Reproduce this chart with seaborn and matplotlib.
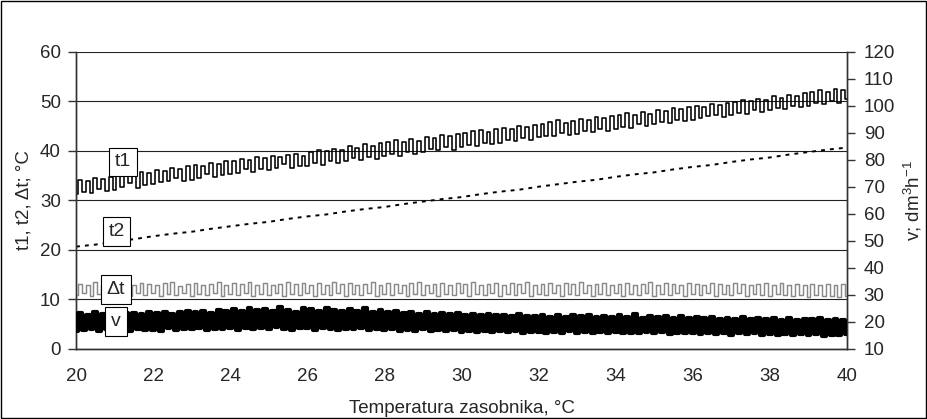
import numpy as np
import pandas as pd
import matplotlib
matplotlib.use("Agg")
import matplotlib.pyplot as plt
from matplotlib.patches import Rectangle
import seaborn as sns

# Storage tank temperature, degC (sampling grid of the logged series)
temp = np.linspace(20.0, 40.0, 201)
# Coarser grid for the return temperature
temp_t2 = np.linspace(20.0, 40.0, 41)

# Supply temperature t1, degC
t1 = [31.2, 34.0, 31.6, 33.9, 31.5, 34.4, 32.3, 34.2, 31.8, 34.6,
      32.1, 35.2, 32.6, 34.9, 33.4, 35.3, 32.5, 35.7, 33.0, 35.4,
      33.3, 36.1, 33.6, 35.8, 33.9, 36.5, 34.4, 36.3, 33.8, 36.9,
      34.0, 37.0, 34.5, 36.8, 35.3, 37.4, 34.6, 37.2, 35.0, 37.8,
      35.2, 37.9, 35.5, 38.3, 36.2, 38.1, 35.7, 38.6, 36.3, 38.4,
      36.0, 38.9, 36.4, 38.6, 37.2, 39.1, 36.5, 39.3, 36.9, 39.0,
      36.8, 39.8, 37.5, 40.2, 37.0, 39.9, 37.8, 40.4, 37.4, 40.1,
      37.8, 40.9, 38.4, 40.6, 38.1, 41.3, 38.8, 41.0, 38.3, 41.5,
      38.9, 41.7, 39.3, 42.1, 39.0, 41.8, 39.7, 42.4, 39.4, 42.0,
      39.7, 42.8, 40.3, 42.5, 40.1, 43.2, 40.7, 42.9, 40.2, 43.4,
      40.8, 43.6, 41.2, 43.9, 41.0, 44.2, 41.6, 43.8, 41.3, 44.3,
      41.5, 44.5, 42.1, 44.3, 41.9, 45.0, 42.5, 44.7, 42.2, 45.2,
      42.7, 45.3, 43.0, 45.8, 42.9, 46.1, 43.5, 45.6, 43.2, 46.0,
      43.4, 46.4, 43.9, 46.2, 43.7, 46.8, 44.3, 46.5, 44.0, 47.0,
      44.4, 47.2, 44.8, 47.5, 44.6, 47.1, 45.3, 47.8, 45.0, 47.4,
      45.3, 48.2, 45.8, 48.0, 45.6, 48.6, 46.2, 48.3, 45.9, 48.8,
      46.2, 49.1, 46.6, 48.8, 46.9, 49.4, 47.1, 49.2, 46.8, 49.7,
      47.2, 49.9, 47.6, 50.3, 47.4, 50.1, 48.1, 50.5, 47.8, 50.2,
      48.1, 51.0, 48.6, 50.7, 48.4, 51.3, 49.0, 51.1, 48.7, 51.6,
      49.1, 51.8, 49.6, 52.2, 49.4, 51.9, 50.0, 52.4, 49.7, 52.3,
      50.4]

# Return temperature t2, degC
t2 = [20.6, 21.0, 21.6, 22.1, 22.7, 23.2, 23.6, 24.2, 24.7, 25.2,
      25.6, 26.2, 26.7, 27.1, 27.7, 28.2, 28.6, 29.2, 29.7, 30.2,
      30.6, 31.2, 31.7, 32.1, 32.7, 33.2, 33.7, 34.1, 34.7, 35.2,
      35.6, 36.2, 36.7, 37.1, 37.7, 38.2, 38.6, 39.2, 39.7, 40.2,
      40.6]

# Temperature difference dt, degC
dt = [10.9, 13.1, 11.2, 12.8, 10.7, 13.4, 11.0, 12.9, 11.3, 13.2,
      10.8, 13.0, 11.1, 13.5, 10.6, 12.8, 11.2, 13.3, 10.9, 13.1,
      11.3, 12.9, 10.7, 13.2, 11.0, 13.4, 10.8, 12.7, 11.2, 13.0,
      10.6, 13.3, 11.1, 12.9, 10.9, 13.1, 11.3, 13.4, 10.7, 12.8,
      11.0, 13.2, 10.8, 13.0, 11.2, 13.5, 10.6, 12.9, 11.1, 13.3,
      10.9, 12.8, 11.3, 13.1, 10.7, 13.4, 11.0, 13.0, 10.8, 13.2,
      11.2, 12.9, 10.6, 13.3, 11.1, 12.8, 10.9, 13.4, 11.3, 13.0,
      10.7, 13.2, 11.0, 12.9, 10.8, 13.1, 11.2, 13.5, 10.6, 12.8,
      11.1, 13.3, 10.9, 13.0, 11.3, 12.9, 10.7, 13.2, 11.0, 13.4,
      10.8, 12.8, 11.2, 13.1, 10.6, 13.3, 11.1, 12.9, 10.9, 13.2,
      11.3, 13.0, 10.7, 13.4, 11.0, 12.8, 10.8, 13.1, 11.2, 13.3,
      10.6, 12.9, 11.1, 13.2, 10.9, 13.0, 11.3, 13.4, 10.7, 12.8,
      11.0, 13.1, 10.8, 13.3, 11.2, 12.9, 10.6, 13.2, 11.1, 13.0,
      10.9, 13.4, 11.3, 12.8, 10.7, 13.1, 11.0, 13.3, 10.8, 12.9,
      11.2, 13.0, 10.6, 13.2, 11.1, 12.8, 10.9, 13.1, 11.3, 13.4,
      10.7, 12.9, 11.0, 13.3, 10.8, 13.0, 11.2, 12.8, 10.6, 13.2,
      11.1, 13.1, 10.9, 12.9, 11.3, 13.3, 10.7, 13.0, 11.0, 12.8,
      10.8, 13.2, 11.2, 13.0, 10.6, 12.9, 11.1, 13.1, 10.9, 13.3,
      10.7, 12.8, 11.0, 13.2, 10.8, 12.9, 10.6, 13.0, 10.9, 12.8,
      10.5, 13.1, 10.8, 12.9, 10.6, 13.0, 10.7, 12.8, 10.5, 13.1,
      10.7]

# Flow rate v, dm3/h
v = [16.4, 23.1, 16.9, 22.6, 17.3, 23.4, 16.6, 22.9, 17.1, 23.6,
     16.8, 22.8, 17.4, 23.3, 16.5, 23.0, 17.2, 22.7, 16.9, 23.5,
     17.0, 23.2, 16.7, 23.7, 17.5, 22.9, 16.8, 23.4, 17.3, 23.9,
     17.2, 23.6, 17.6, 24.1, 16.9, 23.3, 17.4, 24.4, 17.1, 23.8,
     17.7, 24.5, 17.0, 23.9, 17.8, 25.0, 17.3, 24.2, 17.6, 24.8,
     17.1, 24.0, 17.9, 25.3, 17.4, 24.4, 16.9, 23.7, 17.6, 24.9,
     17.5, 24.6, 17.0, 23.8, 17.8, 25.1, 17.2, 24.3, 16.8, 23.9,
     17.4, 24.7, 17.1, 24.0, 17.7, 24.9, 16.9, 23.6, 17.3, 24.2,
     16.8, 23.4, 17.2, 23.9, 16.6, 23.1, 17.0, 23.6, 16.7, 22.9,
     17.1, 23.5, 16.5, 22.8, 16.9, 23.2, 16.4, 22.7, 16.8, 23.0,
     16.3, 22.5, 16.7, 22.9, 16.2, 22.4, 16.6, 22.8, 16.1, 22.3,
     16.5, 22.6, 16.0, 22.1, 16.4, 22.7, 15.9, 22.2, 16.3, 21.9,
     16.1, 22.4, 15.8, 21.8, 16.2, 22.3, 15.9, 21.7, 16.4, 22.6,
     15.8, 21.9, 16.2, 22.5, 15.7, 21.6, 16.0, 22.0, 15.9, 21.8,
     16.1, 22.3, 15.6, 21.7, 15.9, 22.8, 15.8, 21.5, 16.2, 22.1,
     15.7, 21.6, 16.0, 21.9, 15.5, 21.4, 15.9, 22.0, 15.6, 21.3,
     15.8, 21.7, 15.4, 21.2, 15.7, 21.8, 15.3, 20.9, 15.6, 21.5,
     15.2, 21.0, 15.6, 21.6, 15.4, 20.8, 15.7, 21.3, 15.1, 20.9,
     15.5, 21.2, 15.0, 20.7, 15.4, 21.4, 14.9, 20.6, 15.3, 21.1,
     15.0, 20.8, 15.4, 21.3, 14.8, 20.5, 15.2, 21.0, 14.9, 20.7,
     15.3]

x_ticks = [20, 22, 24, 26, 28, 30, 32, 34, 36, 38, 40]
left_ticks = [0, 10, 20, 30, 40, 50, 60]
right_ticks = [10, 20, 30, 40, 50, 60, 70, 80, 90, 100, 110, 120]

df = pd.DataFrame({"T": temp, "t1": t1, "dt": dt, "v": v})
df_t2 = pd.DataFrame({"T": temp_t2, "t2": t2})

sns.set_theme(style="white")
plt.rcParams["font.family"] = ["Liberation Sans", "DejaVu Sans"]
plt.rcParams["mathtext.fontset"] = "custom"
plt.rcParams["mathtext.rm"] = "Liberation Sans"
plt.rcParams["mathtext.default"] = "rm"

FS = 13.5

fig = plt.figure(figsize=(9.27, 4.19), dpi=100)
ax = fig.add_axes([0.082, 0.168, 0.8317, 0.709])
ax2 = ax.twinx()

sns.lineplot(data=df, x="T", y="t1", ax=ax, color="black", lw=1.15,
             drawstyle="steps-mid", estimator=None, zorder=3)
sns.lineplot(data=df_t2, x="T", y="t2", ax=ax, color="black", lw=1.4,
             linestyle=(0, (2.0, 2.6)), estimator=None, zorder=3)
sns.lineplot(data=df, x="T", y="dt", ax=ax, color="#8a8a8a", lw=1.05,
             drawstyle="steps-mid", estimator=None, zorder=3)
sns.lineplot(data=df, x="T", y="v", ax=ax2, color="black", lw=3.0,
             drawstyle="steps-mid", estimator=None, zorder=3)

ax.set_xlim(20, 40)
ax.set_ylim(0, 60)
ax2.set_ylim(10, 120)
ax.set_xticks(x_ticks)
ax.set_yticks(left_ticks)
ax2.set_yticks(right_ticks)

for a in (ax, ax2):
    a.set_facecolor("none")
    for s in a.spines.values():
        s.set_color("#333333")
        s.set_linewidth(1.0)
    a.spines["top"].set_visible(False)

ax.yaxis.grid(True, color="#222222", lw=0.8)
ax.xaxis.grid(False)
ax2.grid(False)
ax.set_axisbelow(True)

ax.tick_params(axis="x", direction="out", length=6, width=1, color="#333333",
               pad=8, labelsize=FS)
ax.tick_params(axis="y", direction="out", length=6, width=1, color="#333333",
               pad=5, labelsize=FS, left=True)
ax2.tick_params(axis="y", direction="out", length=6, width=1, color="#333333",
                pad=6, labelsize=FS, right=True)

ax.set_xlabel("Temperatura zasobnika, °C", fontsize=FS)
ax.set_ylabel("t1, t2, Δt; °C", fontsize=FS)
ax2.set_ylabel("v; dm$^{3}$h$^{-1}$", fontsize=FS, rotation=90)
ax.xaxis.set_label_coords(0.5, -0.172)
ax.yaxis.set_label_coords(-0.057, 0.5)
ax2.yaxis.set_label_coords(1.071, 0.5)

# Series labels in boxes
box = dict(boxstyle="square,pad=0.3", fc="white", ec="black", lw=0.8)
labels = [("t1", 21.21, 37.7), ("t2", 21.05, 23.6),
          ("Δt", 21.04, 11.9), ("v", 21.04, 5.45)]
for txt, xx, yy in labels:
    ax2.text(xx, yy, txt, transform=ax.transData, ha="center", va="center",
             fontsize=14, bbox=box, zorder=10)

fig.patches.append(Rectangle((0.0015, 0.0025), 0.997, 0.995, fill=False,
                             ec="black", lw=1.0, transform=fig.transFigure))

fig.savefig("out.png", dpi=100)
